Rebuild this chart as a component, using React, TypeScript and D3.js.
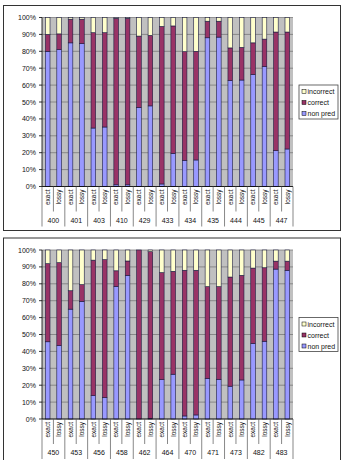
import React from "react";
import * as d3 from "d3";

const groupsTop = ["400", "401", "403", "410", "429", "433", "434", "435", "444", "445", "447"];
const nonPredTop = [80, 81, 85, 84.5, 34.6, 35.2, 1, 1, 46.8, 47.7, 1.5, 19.6, 15.5, 15.7, 88, 88.4, 62.7, 63, 66.2, 71, 21.2, 22.2];
const correctTop = [10, 9.3, 14, 14.5, 56.4, 55.8, 98.5, 98.5, 42.2, 41.7, 93.2, 75.4, 64.3, 64.3, 9.8, 9.4, 19.3, 19.3, 18.8, 16.2, 70.2, 69.2];
const incorrectTop = [10, 9.7, 1, 1, 9, 9, 0.5, 0.5, 11, 10.6, 5.3, 5, 20.2, 20, 2.2, 2.2, 18, 17.7, 15, 12.8, 8.6, 8.6];

const groupsBottom = ["450", "453", "456", "458", "462", "464", "470", "471", "473", "482", "483"];
const nonPredBottom = [45.7, 43.5, 65, 69.6, 13.8, 12.6, 78.5, 85, 0, 0.3, 23.3, 26.5, 1.8, 2.4, 24, 23.5, 19.4, 23.1, 44.7, 46, 88.7, 88];
const correctBottom = [46.2, 49, 10.9, 9.9, 80.2, 81.7, 9.2, 8.5, 100, 98.7, 63.3, 60.9, 86.2, 85.6, 54.3, 54.8, 64.6, 61.9, 44.6, 43.5, 4.7, 5.4];
const incorrectBottom = [8.1, 7.5, 24.1, 20.5, 6, 5.7, 12.3, 6.5, 0, 1, 13.4, 12.6, 12, 12, 21.7, 21.7, 16, 15, 10.7, 10.5, 6.6, 6.6];

const subCats = ["exact", "lossy"];
const yTicks = [0, 10, 20, 30, 40, 50, 60, 70, 80, 90, 100];
const seriesNames = ["non pred", "correct", "incorrect"];
const colors: Record<string, string> = { "non pred": "#9999FF", correct: "#993366", incorrect: "#FFFFCC" };

const FONT = "Liberation Sans, Arial, sans-serif";

function Chart({ oy, groups, np, cor, inc }: { oy: number; groups: string[]; np: number[]; cor: number[]; inc: number[] }) {
  const left = 42, right = 293, top = 17.5 + oy, bottom = 186.5 + oy;
  const keys = groups.flatMap((g) => subCats.map((s) => g + "|" + s));
  const x = d3.scaleBand().domain(keys).range([left, right]).paddingInner(0.6).paddingOuter(0.3);
  const step = x.step();
  const xs = d3.scaleBand().domain(keys).range([left, right]);
  const y = d3.scaleLinear().domain([0, 100]).range([bottom, top]);
  const rows = keys.map((k, i) => ({ key: k, "non pred": np[i], correct: cor[i], incorrect: inc[i] }));
  const stack = d3.stack<any>().keys(seriesNames)(rows);
  const bw = 4.6;
  return (
    <g>
      <rect x={3.5} y={5.5 + oy} width={337} height={225} fill="#fff" stroke="#333" strokeWidth={1} />
      <rect x={left} y={top} width={right - left} height={bottom - top} fill="#C0C0C0" />
      {yTicks.map((t) => (
        <g key={t}>
          <line x1={left} x2={right} y1={y(t)} y2={y(t)} stroke="#707070" strokeWidth={0.7} />
          <line x1={left - 3} x2={left} y1={y(t)} y2={y(t)} stroke="#000" strokeWidth={0.8} />
          <text x={36} y={y(t) + 2.5} fontSize={7} textAnchor="end" fontFamily={FONT} fill="#111">{t}%</text>
        </g>
      ))}
      {stack.map((s) => (
        <g key={s.key}>
          {s.map((d, i) => {
            const cx = (xs(keys[i]) as number) + step / 2;
            const h = y(d[0]) - y(d[1]);
            if (h <= 0) return null;
            return <rect key={i} x={cx - bw / 2} y={y(d[1])} width={bw} height={h} fill={colors[s.key]} stroke="#1a1a40" strokeWidth={0.6} />;
          })}
        </g>
      ))}
      <line x1={left} x2={left} y1={top} y2={bottom} stroke="#000" strokeWidth={0.8} />
      <line x1={left} x2={right} y1={bottom} y2={bottom} stroke="#000" strokeWidth={0.8} />
      {keys.map((k, i) => {
        const x0 = xs(k) as number;
        const cx = x0 + step / 2;
        const long = i % 2 === 0;
        return (
          <g key={k}>
            <line x1={x0} x2={x0} y1={bottom} y2={bottom + (long ? 40 : 25)} stroke="#555" strokeWidth={0.7} />
            <text transform={`translate(${cx + 2.3},${bottom + 3}) rotate(-90)`} fontSize={6.5} textAnchor="end" fontFamily={FONT} fill="#111">{k.split("|")[1]}</text>
          </g>
        );
      })}
      <line x1={right} x2={right} y1={bottom} y2={bottom + 40} stroke="#555" strokeWidth={0.7} />
      {groups.map((g, gi) => {
        const cx = (xs(g + "|exact") as number) + step;
        return <text key={g} x={cx} y={bottom + 36} fontSize={7} textAnchor="middle" fontFamily={FONT} fill="#111">{g}</text>;
      })}
      <rect x={299} y={85 + oy} width={39} height={34} fill="#fff" stroke="#444" strokeWidth={0.8} />
      {["incorrect", "correct", "non pred"].map((n, i) => (
        <g key={n}>
          <rect x={302} y={89.5 + oy + i * 11} width={4} height={4} fill={colors[n]} stroke="#000" strokeWidth={0.5} />
          <text x={307.5} y={94 + oy + i * 11} fontSize={7} fontFamily={FONT} fill="#111">{n}</text>
        </g>
      ))}
    </g>
  );
}

export default function App() {
  return (
    <svg width={343} height={460} style={{ position: "absolute", left: 0, top: 0, background: "#fff" }}>
      <Chart oy={0} groups={groupsTop} np={nonPredTop} cor={correctTop} inc={incorrectTop} />
      <Chart oy={232.5} groups={groupsBottom} np={nonPredBottom} cor={correctBottom} inc={incorrectBottom} />
    </svg>
  );
}
